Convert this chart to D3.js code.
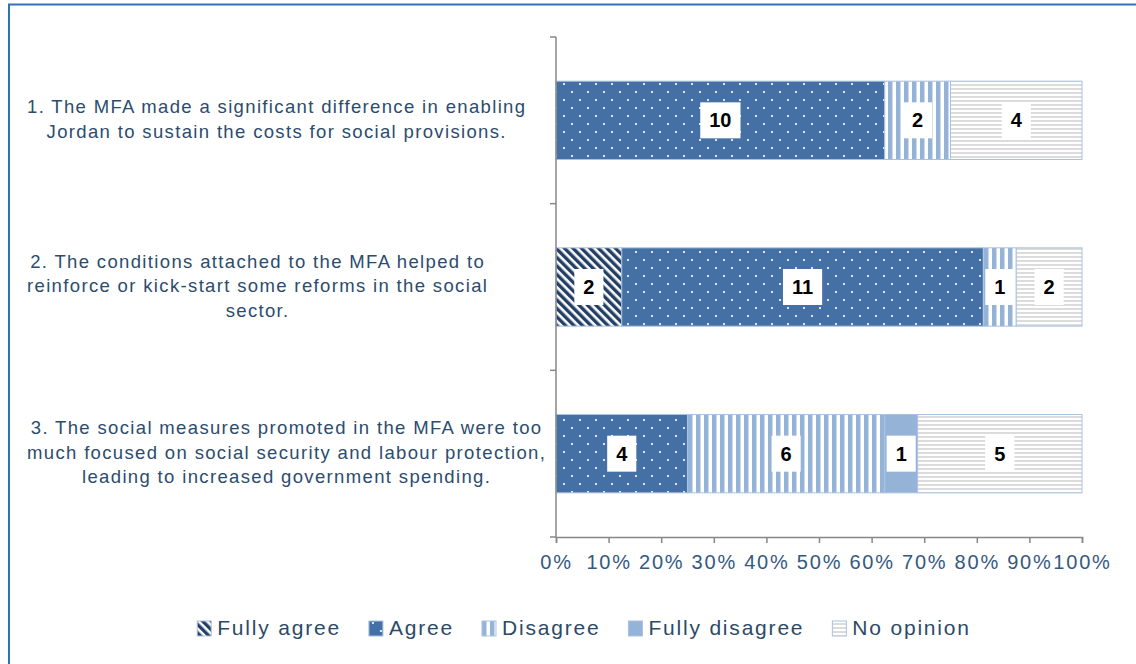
<!DOCTYPE html>
<html>
<head>
<meta charset="utf-8">
<script src="https://d3js.org/d3.v7.min.js"></script>
<style>
  body { margin: 0; background: #fff; }
  svg text { font-family: "Liberation Sans", Arial, sans-serif; }
</style>
</head>
<body>
<script>
// survey statements (one per bar)
var questions = [
  ["1. The MFA made a significant difference in enabling",
   "Jordan to sustain the costs for social provisions."],
  ["2. The conditions attached to the MFA helped to",
   "reinforce or kick-start some reforms in the social",
   "sector."],
  ["3. The social measures promoted in the MFA were too",
   "much focused on social security and labour protection,",
   "leading to increased government spending."]
];
var answers = ["Fully agree", "Agree", "Disagree", "Fully disagree", "No opinion"];

// number of respondents per answer, one value per question
var fullyAgree    = [0, 2, 0];
var agree         = [10, 11, 4];
var disagree      = [2, 1, 6];
var fullyDisagree = [0, 0, 1];
var noOpinion     = [4, 2, 5];

var xTicks = [0, 0.1, 0.2, 0.3, 0.4, 0.5, 0.6, 0.7, 0.8, 0.9, 1];

var width = 1136, height = 664;
var plotL = 556, plotR = 1082, plotT = 37, plotB = 537;

var svg = d3.select("body").append("svg")
  .attr("width", width).attr("height", height);

// ---- patterns, close to the Excel fills
var defs = svg.append("defs");

var p = defs.append("pattern").attr("id", "pDiag")
  .attr("patternUnits", "userSpaceOnUse").attr("width", 6).attr("height", 6)
  .attr("patternTransform", "rotate(-45)");
p.append("rect").attr("width", 6).attr("height", 6).attr("fill", "#fff");
p.append("rect").attr("width", 3.4).attr("height", 6).attr("fill", "#233f66");

p = defs.append("pattern").attr("id", "pDots")
  .attr("patternUnits", "userSpaceOnUse").attr("width", 16).attr("height", 16);
p.append("rect").attr("width", 16).attr("height", 16).attr("fill", "#4470a5");
p.append("rect").attr("x", 3).attr("y", 3).attr("width", 2).attr("height", 2).attr("fill", "#dfe7f2");
p.append("rect").attr("x", 11).attr("y", 11).attr("width", 2).attr("height", 2).attr("fill", "#dfe7f2");

p = defs.append("pattern").attr("id", "pVert")
  .attr("patternUnits", "userSpaceOnUse").attr("width", 8).attr("height", 8);
p.append("rect").attr("width", 8).attr("height", 8).attr("fill", "#fff");
p.append("rect").attr("width", 4.5).attr("height", 8).attr("fill", "#95b3d7");

p = defs.append("pattern").attr("id", "pHorz")
  .attr("patternUnits", "userSpaceOnUse").attr("width", 4).attr("height", 4);
p.append("rect").attr("width", 4).attr("height", 4).attr("fill", "#fff");
p.append("rect").attr("width", 4).attr("height", 2).attr("fill", "#dcdcdc");

var fills = ["url(#pDiag)", "url(#pDots)", "url(#pVert)", "#95b3d7", "url(#pHorz)"];

// outer frame
svg.append("rect").attr("x", 9).attr("y", 4.5).attr("width", 1140).attr("height", 700)
  .attr("fill", "none").attr("stroke", "#2e74b5").attr("stroke-width", 2);

// ---- data into stacked form
var rows = questions.map(function(q, i) {
  var r = { idx: i };
  r[answers[0]] = fullyAgree[i];
  r[answers[1]] = agree[i];
  r[answers[2]] = disagree[i];
  r[answers[3]] = fullyDisagree[i];
  r[answers[4]] = noOpinion[i];
  return r;
});
var stack = d3.stack().keys(answers).offset(d3.stackOffsetExpand);
var series = stack(rows);

var x = d3.scaleLinear().domain([0, 1]).range([plotL, plotR]);
var y = d3.scaleBand().domain(d3.range(questions.length)).range([plotT, plotB])
  .paddingInner(0.53).paddingOuter(0.265);

// ---- bars
var g = svg.append("g");
series.forEach(function(s, k) {
  g.selectAll(null).data(s.filter(function(d) { return d[1] > d[0]; }))
    .enter().append("rect")
    .attr("x", function(d) { return x(d[0]); })
    .attr("y", function(d) { return y(d.data.idx); })
    .attr("width", function(d) { return x(d[1]) - x(d[0]); })
    .attr("height", y.bandwidth())
    .attr("fill", fills[k])
    .attr("stroke", "#a9c2e2").attr("stroke-width", 1);
});

// ---- data labels with white boxes
series.forEach(function(s, k) {
  s.forEach(function(d) {
    var v = d.data[answers[k]];
    if (!v) return;
    var cx = x((d[0] + d[1]) / 2), cy = y(d.data.idx) + y.bandwidth() / 2;
    var lg = svg.append("g");
    var box = lg.append("rect").attr("fill", "#fff");
    var t = lg.append("text").attr("x", cx).attr("y", cy + 7)
      .attr("text-anchor", "middle").attr("font-size", 20).attr("font-weight", "bold")
      .attr("fill", "#000").text(v);
    var w = t.node().getComputedTextLength() + 18;
    box.attr("x", cx - w / 2).attr("y", cy - 18).attr("width", w).attr("height", 36);
  });
});

// ---- axes
var axisColor = "#878787";
svg.append("line").attr("x1", plotL).attr("x2", plotL).attr("y1", plotT).attr("y2", plotB)
  .attr("stroke", axisColor).attr("stroke-width", 1.5);
d3.range(questions.length + 1).forEach(function(i) {
  var yy = plotT + i * y.step();
  svg.append("line").attr("x1", plotL - 6).attr("x2", plotL).attr("y1", yy).attr("y2", yy)
    .attr("stroke", axisColor).attr("stroke-width", 1.5);
});

var xAxis = svg.append("g").attr("transform", "translate(0," + plotB + ")")
  .call(d3.axisBottom(x).tickValues(xTicks).tickFormat(d3.format(".0%")).tickSize(6).tickPadding(12));
xAxis.select(".domain").attr("stroke", axisColor).attr("stroke-width", 1.5);
xAxis.selectAll(".tick line").attr("stroke", axisColor).attr("stroke-width", 1.5);
xAxis.selectAll(".tick text").attr("font-size", 20).attr("fill", "#34597f")
  .attr("letter-spacing", 1.8)
  .attr("font-family", "Liberation Sans, Arial, sans-serif");

// ---- category labels, each block centred on its widest line
questions.forEach(function(lines, i) {
  var cy = y(i) + y.bandwidth() / 2;
  var lh = 24.5;
  var tg = svg.append("g");
  var ts = lines.map(function(l, j) {
    return tg.append("text").attr("font-size", 18.5).attr("fill", "#2c4c6e")
      .attr("letter-spacing", 1.35)
      .attr("text-anchor", "middle")
      .attr("y", cy - (lines.length - 1) * lh / 2 + j * lh + 5)
      .text(l);
  });
  var maxW = d3.max(ts, function(t) { return t.node().getComputedTextLength(); });
  ts.forEach(function(t) { t.attr("x", 27 + maxW / 2); });
});

// ---- legend
var leg = svg.append("g");
var lx = 0, gap = 28;
answers.forEach(function(a, k) {
  var item = leg.append("g").attr("transform", "translate(" + lx + ",0)");
  item.append("rect").attr("x", 0).attr("y", -14).attr("width", 14).attr("height", 15)
    .attr("fill", fills[k]).attr("stroke", "#a9c2e2").attr("stroke-width", 1);
  var t = item.append("text").attr("x", 20).attr("y", 0).attr("font-size", 21)
    .attr("letter-spacing", 1.8).attr("fill", "#2c4a68").text(a);
  lx += 20 + t.node().getComputedTextLength() + gap;
});
var lw = lx - gap;
leg.attr("transform", "translate(" + (584 - lw / 2) + ",635)");
</script>
</body>
</html>
